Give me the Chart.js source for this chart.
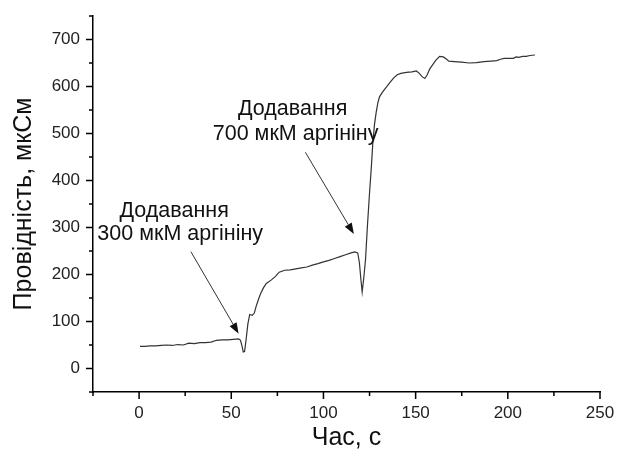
<!DOCTYPE html>
<html>
<head>
<meta charset="utf-8">
<script src="https://cdn.jsdelivr.net/npm/chart.js@4.4.1/dist/chart.umd.min.js"></script>
<style>
  html, body { margin: 0; padding: 0; background: #fff; }
  #wrap { width: 617px; height: 449px; }
</style>
</head>
<body>
<div id="wrap"><canvas id="cond"></canvas></div>
<script>
// time, s
const timeVals = [0.5, 3, 6, 9, 12, 15, 18, 21, 24, 27, 30, 33, 36, 39, 42, 45, 48, 51, 54,
  55, 55.8, 56.5, 57.2, 58, 59, 60, 61.4, 62.5, 63.4, 65, 66, 67.5, 69, 71.6, 74, 76, 79,
  82, 85, 88, 91, 94, 97, 100, 103, 106, 109, 112, 115, 117, 118.6, 119.5, 120.3, 121,
  121.8, 122.8, 123.8, 125, 126, 126.8, 127.7, 128.6, 129.5, 130.4, 132, 134, 136, 138,
  140, 142, 145, 148, 150.4, 152, 153.5, 155, 156.3, 157.6, 159, 161, 163, 165, 166.5,
  168, 171, 175, 179, 183, 187, 191, 194, 196, 198, 201, 203, 204.5, 206, 208, 210, 212, 214.7];
// conductivity, uS
const condVals = [47, 47, 48, 48, 49, 50, 49, 51, 50, 54, 53, 55, 55, 56, 60, 61, 61, 62, 63,
  60, 48, 35, 36, 60, 95, 115, 113, 118, 131, 150, 160, 172, 181, 188, 196, 205, 209,
  210, 212, 214, 216, 220, 223, 227, 230, 234, 238, 242, 246, 248, 246, 225, 190, 163,
  190, 231, 300, 374, 430, 481, 520, 545, 565, 578, 588, 598, 608, 618,
  625, 628, 630, 631, 633, 628, 621, 617, 625, 637, 645, 656, 664, 663, 659,
  654, 653, 652, 650, 651, 653, 654, 655, 658, 660, 660, 660, 663, 662, 664, 664, 666, 667];

const xTickVals = [0, 50, 100, 150, 200, 250];
const yTickVals = [0, 100, 200, 300, 400, 500, 600, 700];

// annotation texts and arrows, in data units
const notes = [
  { lines: [["Додавання", 19, 323], ["300 мкМ аргініну", 22.3, 273.5]], from: [28.1, 248.5], to: [54, 74] },
  { lines: [["Додавання", 83.3, 539], ["700 мкМ аргініну", 84.9, 487]], from: [90.2, 460], to: [116.5, 286] }
];

const tickFont = { family: "'Liberation Sans', Arial, sans-serif", size: 17 };

// small and big ticks on both axes, drawn outward
const ticksPlugin = {
  id: 'axTicks',
  afterDraw(chart) {
    const ctx = chart.ctx;
    const xs = chart.scales.x, ys = chart.scales.y;
    ctx.save();
    ctx.strokeStyle = '#000';
    ctx.lineWidth = 1.5;
    ctx.beginPath();
    for (let v = -25; v <= 250; v += 25) {
      const px = xs.getPixelForValue(v);
      const len = v % 50 === 0 ? 7 : 4;
      ctx.moveTo(px, xs.top);
      ctx.lineTo(px, xs.top + len);
    }
    for (let v = -50; v <= 750; v += 50) {
      const py = ys.getPixelForValue(v);
      const len = v % 100 === 0 ? 7 : 4;
      ctx.moveTo(ys.right, py);
      ctx.lineTo(ys.right - len, py);
    }
    ctx.stroke();
    ctx.restore();
  }
};

const notesPlugin = {
  id: 'notes',
  afterDraw(chart) {
    const ctx = chart.ctx;
    const xs = chart.scales.x, ys = chart.scales.y;
    ctx.save();
    ctx.fillStyle = '#111';
    ctx.font = "21.5px 'Liberation Sans', Arial, sans-serif";
    ctx.textAlign = 'center';
    ctx.textBaseline = 'alphabetic';
    notes.forEach(n => {
      n.lines.forEach(l => {
        ctx.fillText(l[0], xs.getPixelForValue(l[1]), ys.getPixelForValue(l[2]));
      });
      const x1 = xs.getPixelForValue(n.from[0]), y1 = ys.getPixelForValue(n.from[1]);
      const x2 = xs.getPixelForValue(n.to[0]), y2 = ys.getPixelForValue(n.to[1]);
      const a = Math.atan2(y2 - y1, x2 - x1);
      const hl = 11, hw = 4;
      ctx.strokeStyle = '#333';
      ctx.lineWidth = 1;
      ctx.beginPath();
      ctx.moveTo(x1, y1);
      ctx.lineTo(x2 - hl * Math.cos(a), y2 - hl * Math.sin(a));
      ctx.stroke();
      ctx.fillStyle = '#111';
      ctx.beginPath();
      ctx.moveTo(x2, y2);
      ctx.lineTo(x2 - hl * Math.cos(a) + hw * Math.sin(a), y2 - hl * Math.sin(a) - hw * Math.cos(a));
      ctx.lineTo(x2 - hl * Math.cos(a) - hw * Math.sin(a), y2 - hl * Math.sin(a) + hw * Math.cos(a));
      ctx.closePath();
      ctx.fill();
    });
    ctx.restore();
  }
};

new Chart(document.getElementById('cond'), {
  type: 'line',
  data: {
    datasets: [{
      data: timeVals.map((t, i) => ({ x: t, y: condVals[i] })),
      borderColor: '#333',
      borderWidth: 1.2,
      pointRadius: 0,
      tension: 0,
      fill: false
    }]
  },
  options: {
    responsive: true,
    maintainAspectRatio: false,
    animation: false,
    events: [],
    layout: { padding: { top: 16, right: 17, left: 0, bottom: 0 } },
    plugins: { legend: { display: false }, tooltip: { enabled: false } },
    scales: {
      x: {
        type: 'linear',
        min: -25, max: 250,
        afterFit(s) { s.height = 57; s.paddingLeft = 0; s.paddingRight = 0; },
        afterBuildTicks(s) { s.ticks = xTickVals.map(v => ({ value: v })); },
        grid: { display: false, drawTicks: false },
        border: { display: true, color: '#000', width: 1.5 },
        ticks: { padding: 11, color: '#222', font: tickFont, maxRotation: 0 },
        title: {
          display: true, text: 'Час, с', color: '#111',
          font: { family: "'Liberation Sans', Arial, sans-serif", size: 25, lineHeight: 0.88 },
          padding: { top: 0, bottom: 0 }
        }
      },
      y: {
        type: 'linear',
        min: -50, max: 750,
        afterFit(s) { s.width = 93; s.paddingTop = 0; s.paddingBottom = 0; },
        afterBuildTicks(s) { s.ticks = yTickVals.map(v => ({ value: v })); },
        grid: { display: false, drawTicks: false },
        border: { display: true, color: '#000', width: 1.5 },
        ticks: { padding: 13, color: '#222', font: tickFont },
        title: {
          display: true, text: 'Провідність, мкСм', color: '#111',
          font: { family: "'Liberation Sans', Arial, sans-serif", size: 25, lineHeight: 1.2 },
          padding: { top: 9, bottom: 0 }
        }
      }
    }
  },
  plugins: [ticksPlugin, notesPlugin]
});
</script>
</body>
</html>
